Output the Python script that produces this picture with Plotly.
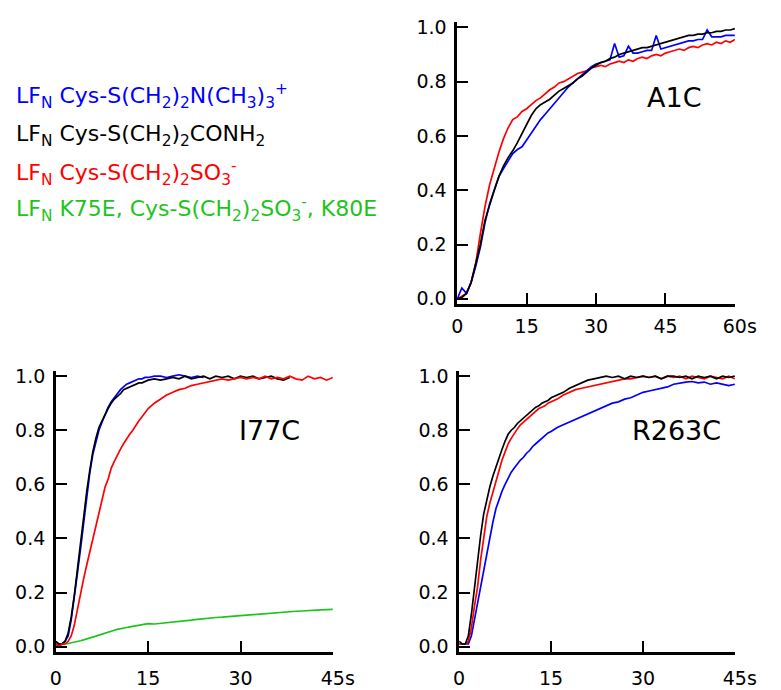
import plotly.graph_objects as go

W, H = 781, 690

# ---------------- data ----------------
# A1C panel (time in s)
t_a1c = list(range(0, 61))
a1c_red = [0.00, 0.01, 0.02, 0.06, 0.13, 0.24, 0.34, 0.42, 0.48, 0.54, 0.59, 0.63, 0.66, 0.67, 0.69, 0.70,
           0.715, 0.73, 0.74, 0.755, 0.77, 0.78, 0.795, 0.80, 0.81, 0.82, 0.83, 0.835, 0.84, 0.85, 0.855,
           0.86, 0.855, 0.865, 0.87, 0.875, 0.87, 0.88, 0.875, 0.885, 0.89, 0.885, 0.895, 0.90, 0.895,
           0.905, 0.91, 0.915, 0.92, 0.915, 0.925, 0.93, 0.925, 0.935, 0.94, 0.935, 0.945, 0.94, 0.95, 0.945, 0.955]
a1c_blue = [0.00, 0.04, 0.02, 0.06, 0.12, 0.19, 0.28, 0.35, 0.40, 0.45, 0.48, 0.51, 0.535, 0.55, 0.56, 0.585,
            0.61, 0.635, 0.66, 0.68, 0.70, 0.72, 0.74, 0.76, 0.78, 0.795, 0.81, 0.825, 0.84, 0.855, 0.865,
            0.87, 0.875, 0.88, 0.94, 0.89, 0.895, 0.93, 0.905, 0.905, 0.91, 0.915, 0.915, 0.97, 0.92,
            0.925, 0.93, 0.935, 0.94, 0.945, 0.95, 0.95, 0.955, 0.955, 0.99, 0.965, 0.965, 0.965, 0.97, 0.97, 0.97]
a1c_black = [0.00, 0.005, 0.02, 0.06, 0.13, 0.20, 0.29, 0.35, 0.40, 0.45, 0.49, 0.52, 0.545, 0.575, 0.61, 0.645,
             0.675, 0.70, 0.715, 0.725, 0.735, 0.75, 0.765, 0.775, 0.785, 0.795, 0.81, 0.82, 0.835, 0.85, 0.86,
             0.87, 0.875, 0.885, 0.89, 0.90, 0.905, 0.91, 0.915, 0.92, 0.925, 0.925, 0.93, 0.935, 0.94,
             0.945, 0.95, 0.955, 0.96, 0.965, 0.97, 0.97, 0.975, 0.975, 0.98, 0.98, 0.985, 0.985, 0.99, 0.99, 0.995]

# time grid shared by the I77C and R263C panels
t_45 = [0, 0.5, 1, 1.5, 2, 2.5, 3, 3.5, 4, 4.5, 5, 5.5, 6, 6.5, 7, 7.5, 8, 8.5, 9, 9.5, 10,
        10.5, 11, 11.5, 12, 12.5, 13, 13.5, 14, 14.5, 15, 16, 17, 18, 19, 20, 21, 22, 23, 24, 25,
        26, 27, 28, 29, 30, 31, 32, 33, 34, 35, 36, 37, 38, 39, 40, 41, 42, 43, 44, 45]

# I77C panel
i77_blue = [0.01, 0.01, 0.01, 0.02, 0.04, 0.10, 0.18, 0.27, 0.36, 0.46, 0.56, 0.64, 0.71, 0.76, 0.80, 0.83,
            0.86, 0.885, 0.905, 0.92, 0.935, 0.95, 0.96, 0.97, 0.975, 0.98, 0.985, 0.99, 0.99, 0.995, 0.995,
            1.0, 1.0, 0.995, 1.0, 1.005, 1.0, 0.995, 1.0, 0.995] + [None] * 21
i77_black = [0.02, 0.01, 0.01, 0.02, 0.05, 0.11, 0.19, 0.29, 0.38, 0.48, 0.57, 0.65, 0.72, 0.77, 0.81, 0.835,
             0.86, 0.88, 0.90, 0.915, 0.925, 0.935, 0.95, 0.955, 0.96, 0.965, 0.97, 0.975, 0.975, 0.98, 0.985,
             0.99, 0.985, 0.99, 0.995, 0.99, 1.0, 0.99, 0.995, 1.0, 0.99, 1.0, 0.995, 1.0, 0.99, 1.0,
             0.995, 1.0, 0.99, 0.995, 1.0, 0.99, 0.985, 0.995] + [None] * 7
i77_red = [0.01, 0.0, 0.01, 0.01, 0.02, 0.04, 0.08, 0.14, 0.20, 0.25, 0.30, 0.35, 0.40, 0.45, 0.50, 0.55,
           0.59, 0.62, 0.66, 0.685, 0.71, 0.73, 0.75, 0.77, 0.785, 0.80, 0.82, 0.835, 0.85, 0.865, 0.88,
           0.90, 0.915, 0.93, 0.94, 0.95, 0.955, 0.965, 0.97, 0.975, 0.98, 0.985, 0.99, 0.985, 0.99, 0.995,
           0.99, 0.995, 0.99, 1.0, 0.99, 0.995, 0.99, 1.0, 0.99, 0.985, 1.0, 0.99, 0.995, 0.985, 0.995]
i77_green = [0.005, 0.006, 0.008, 0.010, 0.012, 0.014, 0.016, 0.019, 0.022, 0.025, 0.028, 0.031, 0.035,
             0.039, 0.043, 0.047, 0.051, 0.055, 0.058, 0.061, 0.064, 0.067, 0.069, 0.071, 0.073, 0.075,
             0.077, 0.079, 0.081, 0.083, 0.085, 0.084, 0.086, 0.089, 0.091, 0.094, 0.096, 0.098, 0.101,
             0.104, 0.106, 0.108, 0.109, 0.111, 0.113, 0.115, 0.117, 0.119, 0.121, 0.123, 0.124, 0.126,
             0.128, 0.129, 0.131, 0.132, 0.134, 0.135, 0.136, 0.137, 0.138]

# R263C panel
r263_blue = [0.01, 0.01, 0.01, 0.01, 0.04, 0.10, 0.16, 0.23, 0.29, 0.35, 0.40, 0.46, 0.51, 0.545, 0.575, 0.60,
             0.625, 0.645, 0.66, 0.675, 0.69, 0.70, 0.715, 0.725, 0.74, 0.75, 0.76, 0.77, 0.78, 0.79, 0.795,
             0.81, 0.82, 0.83, 0.84, 0.85, 0.86, 0.87, 0.88, 0.89, 0.90, 0.905, 0.915, 0.92, 0.93, 0.94,
             0.945, 0.95, 0.955, 0.96, 0.97, 0.975, 0.978, 0.98, 0.975, 0.978, 0.97, 0.975, 0.97, 0.965, 0.97]
r263_red = [0.01, 0.01, 0.01, 0.02, 0.07, 0.15, 0.22, 0.32, 0.41, 0.48, 0.53, 0.57, 0.60, 0.65, 0.69, 0.72,
            0.75, 0.77, 0.79, 0.805, 0.82, 0.83, 0.84, 0.85, 0.86, 0.87, 0.88, 0.885, 0.89, 0.90, 0.905,
            0.915, 0.93, 0.94, 0.95, 0.955, 0.96, 0.965, 0.97, 0.975, 0.98, 0.985, 0.99, 0.99, 0.995, 1.0,
            0.995, 1.0, 0.99, 1.0, 0.995, 1.0, 0.99, 1.0, 0.995, 0.99, 1.0, 0.995, 0.99, 1.0, 0.99]
r263_black = [0.02, 0.01, 0.01, 0.04, 0.12, 0.22, 0.31, 0.41, 0.49, 0.545, 0.59, 0.63, 0.665, 0.70, 0.73, 0.76,
              0.785, 0.80, 0.81, 0.825, 0.835, 0.845, 0.855, 0.865, 0.875, 0.885, 0.89, 0.90, 0.905, 0.91, 0.92,
              0.93, 0.94, 0.955, 0.965, 0.975, 0.985, 0.99, 0.995, 1.0, 0.995, 1.0, 0.99, 1.0, 0.995, 1.0,
              0.995, 1.0, 0.99, 1.0, 1.0, 0.995, 1.0, 0.99, 1.0, 0.995, 1.0, 0.99, 1.0, 0.995, 1.0]

x_ticks_60 = [0, 15, 30, 45, 60]
x_ticktext_60 = ["0", "15", "30", "45", "\u00a0\u2009" + "60s"]   # leading pad keeps "60" centred on its tick
x_ticks_45 = [0, 15, 30, 45]
x_ticktext_45 = ["0", "15", "30", "\u00a0\u2009" + "45s"]
y_ticks = [0.0, 0.2, 0.4, 0.6, 0.8, 1.0]
y_ticktext = ["0.0", "0.2", "0.4", "0.6", "0.8", "1.0"]

legend_lines = [
    ("LF<sub>N</sub> Cys-S(CH<sub>2</sub>)<sub>2</sub>N(CH<sub>3</sub>)<sub>3</sub><sup>+</sup>", "#0000ff"),
    ("LF<sub>N</sub> Cys-S(CH<sub>2</sub>)<sub>2</sub>CONH<sub>2</sub>", "#000000"),
    ("LF<sub>N</sub> Cys-S(CH<sub>2</sub>)<sub>2</sub>SO<sub>3</sub><sup>-</sup>", "#ff0000"),
    ("LF<sub>N</sub> K75E, Cys-S(CH<sub>2</sub>)<sub>2</sub>SO<sub>3</sub><sup>-</sup>, K80E", "#1ec41e"),
]
panel_labels = ["A1C", "I77C", "R263C"]

BLUE, BLACK, RED, GREEN = "#0000ff", "#000000", "#ff0000", "#1ec41e"
FONT = "DejaVu Sans"

# ---------------- figure ----------------
fig = go.Figure()
lw = 1.7

def add(x, y, color, xa, ya):
    fig.add_trace(go.Scatter(x=x, y=y, mode="lines", line=dict(color=color, width=lw),
                             xaxis=xa, yaxis=ya, showlegend=False, connectgaps=False,
                             hoverinfo="skip"))

# A1C (top right)
add(t_a1c, a1c_red, RED, "x", "y")
add(t_a1c, a1c_blue, BLUE, "x", "y")
add(t_a1c, a1c_black, BLACK, "x", "y")
# I77C (bottom left)
add(t_45, i77_green, GREEN, "x2", "y2")
add(t_45, i77_blue, BLUE, "x2", "y2")
add(t_45, i77_black, BLACK, "x2", "y2")
add(t_45, i77_red, RED, "x2", "y2")
# R263C (bottom right)
add(t_45, r263_blue, BLUE, "x3", "y3")
add(t_45, r263_red, RED, "x3", "y3")
add(t_45, r263_black, BLACK, "x3", "y3")

def px_x(p):
    return p / W

def px_y(p):
    return 1 - p / H

axis_common = dict(showline=True, linecolor="black", linewidth=2.5, ticks="inside", ticklen=11,
                   tickwidth=2, tickcolor="black", showgrid=False, zeroline=False,
                   tickfont=dict(family=FONT, size=19, color="black"))

ydom_top = [px_y(303), px_y(16.7)]
ydom_bot = [px_y(657), px_y(371.7)]
yr = [-0.018, 1.018]

fig.update_layout(
    width=W, height=H, margin=dict(l=0, r=0, t=0, b=0),
    paper_bgcolor="white", plot_bgcolor="white",
    xaxis=dict(domain=[px_x(468), px_x(756)], range=[0, 60], tickvals=x_ticks_60,
               ticktext=x_ticktext_60, anchor="y", ticklabelstandoff=4, **axis_common),
    yaxis=dict(domain=ydom_top, range=yr, tickvals=y_ticks, ticktext=y_ticktext, anchor="x",
               ticklabelstandoff=4, **axis_common),
    xaxis2=dict(domain=[px_x(51.7), px_x(339)], range=[0, 45], tickvals=x_ticks_45,
                ticktext=x_ticktext_45, anchor="y2", ticklabelstandoff=8, **axis_common),
    yaxis2=dict(domain=ydom_bot, range=yr, tickvals=y_ticks, ticktext=y_ticktext, anchor="x2",
                ticklabelstandoff=4, **axis_common),
    xaxis3=dict(domain=[px_x(470), px_x(756)], range=[0, 45], tickvals=x_ticks_45,
                ticktext=x_ticktext_45, anchor="y3", ticklabelstandoff=8, **axis_common),
    yaxis3=dict(domain=ydom_bot, range=yr, tickvals=y_ticks, ticktext=y_ticktext, anchor="x3",
                ticklabelstandoff=4, **axis_common),
)

annotations = []
for txt, xp, yp in zip(panel_labels, [693, 273, 695], [93, 432, 432]):
    annotations.append(dict(text=txt, x=px_x(xp), y=px_y(yp), xref="paper", yref="paper",
                            showarrow=False, xanchor="center", yanchor="middle",
                            font=dict(family=FONT, size=27, color="black")))
# legend text
for (txt, col), yp in zip(legend_lines, [92, 132, 170, 207]):
    annotations.append(dict(text=txt, x=px_x(8), y=px_y(yp), xref="paper", yref="paper",
                            showarrow=False, xanchor="left", yanchor="middle",
                            font=dict(family=FONT, size=22, color=col)))
fig.update_layout(annotations=annotations)

# place the figure at the page's top-left corner (no default body margin), no mode bar
fig.write_html("out.html", config={"displayModeBar": False},
               post_script="document.body.style.margin='0px';")
